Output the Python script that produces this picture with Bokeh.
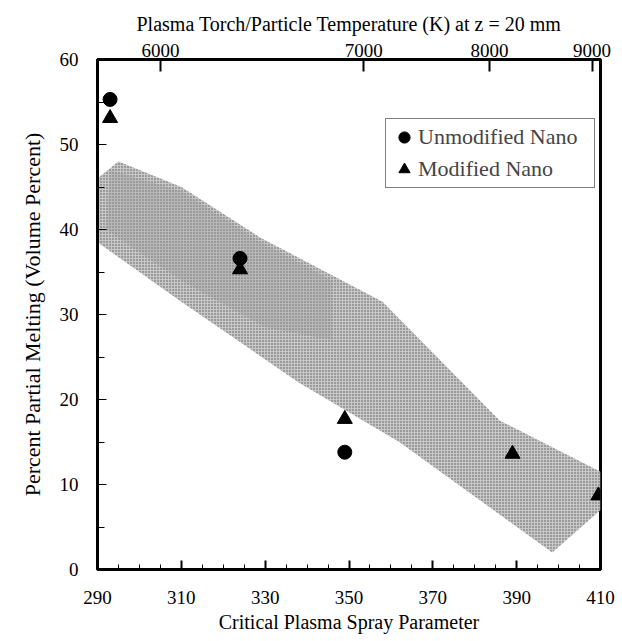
from bokeh.plotting import figure
from bokeh.models import LinearAxis, FixedTicker, Range1d, Legend, LegendItem
from bokeh.embed import file_html
from bokeh.resources import INLINE

# ---- data ----
unmod_x = [293, 324, 349]
unmod_y = [55.3, 36.6, 13.8]
mod_x = [293, 324, 349, 389, 409.5]
mod_y = [53.1, 35.3, 17.7, 13.6, 8.7]

band_x = [290, 295, 310, 329, 358, 386, 410, 410, 398.5, 362, 338, 310, 290]
band_y = [46, 48, 45, 39, 31.5, 17.5, 11.5, 7, 2, 15, 22, 31.5, 38.5]

core_x = [293, 310, 329, 346, 346, 330, 310, 292]
core_y = [47, 44.5, 38.5, 34, 27, 28.5, 34, 40]

x_ticks = [290, 310, 330, 350, 370, 390, 410]
x_minor = list(range(290, 411, 5))
y_ticks = [0, 10, 20, 30, 40, 50, 60]
y_minor = list(range(0, 61, 5))

temp_labels = ["6000", "7000", "8000", "9000"]
temp_pos = [305, 353.5, 383.5, 408]

FONT = "Liberation Serif"

p = figure(width=622, height=640, output_backend="svg", toolbar_location=None,
           x_range=Range1d(290, 410), y_range=Range1d(0, 60),
           min_border_left=97, min_border_right=22, min_border_top=59,
           min_border_bottom=71, x_axis_location=None, y_axis_location=None)
p.grid.visible = False
p.outline_line_color = "black"
p.outline_line_width = 3
p.background_fill_color = "white"
p.border_fill_color = "white"

# band
p.patch(band_x, band_y, fill_color="#c8c8c8", fill_alpha=1.0, line_color=None,
        hatch_pattern=".", hatch_color="#555555", hatch_scale=3, hatch_weight=1)
p.patch(core_x, core_y, fill_color="#9a9a9a", fill_alpha=0.35, line_color=None)

r1 = p.scatter(unmod_x, unmod_y, marker="circle", size=14, color="black")
r2 = p.scatter(mod_x, mod_y, marker="triangle", size=15, color="black")

def style(ax, lab_size="19px", title_size="20px"):
    ax.axis_line_width = 3
    ax.axis_line_color = "black"
    ax.major_label_text_font = FONT
    ax.major_label_text_font_size = lab_size
    ax.major_label_text_color = "black"
    ax.axis_label_text_font = FONT
    ax.axis_label_text_font_size = title_size
    ax.axis_label_text_font_style = "normal"
    ax.axis_label_text_color = "black"
    ax.major_tick_out = 0
    ax.minor_tick_out = 0
    ax.major_tick_line_color = "black"
    ax.minor_tick_line_color = "black"

xb = LinearAxis(ticker=FixedTicker(ticks=x_ticks, minor_ticks=x_minor),
                axis_label="Critical Plasma Spray Parameter")
style(xb)
xb.major_tick_in = 9
xb.minor_tick_in = 5
xb.major_tick_line_width = 2
xb.major_label_standoff = 21
xb.axis_label_standoff = 4
p.add_layout(xb, "below")

yl = LinearAxis(ticker=FixedTicker(ticks=y_ticks, minor_ticks=y_minor),
                axis_label="Percent Partial Melting (Volume Percent)")
style(yl, title_size="22px")
yl.major_tick_in = 9
yl.minor_tick_in = 7
yl.major_label_standoff = 19
yl.axis_label_standoff = 12
p.add_layout(yl, "left")

xt = LinearAxis(ticker=FixedTicker(ticks=temp_pos),
                axis_label="Plasma Torch/Particle Temperature (K) at z = 20 mm")
style(xt)
xt.major_label_overrides = {t: l for t, l in zip(temp_pos, temp_labels)}
xt.major_tick_in = 12
xt.major_tick_line_width = 2
xt.minor_tick_in = 0
xt.axis_line_width = 2
xt.major_label_standoff = 3
xt.axis_label_standoff = 6
p.add_layout(xt, "above")

legend = Legend(items=[LegendItem(label="Unmodified Nano", renderers=[r1]),
                       LegendItem(label="Modified Nano", renderers=[r2])],
                location=(288, 381))
legend.label_text_font = FONT
legend.label_text_font_size = "22px"
legend.border_line_color = "black"
legend.border_line_width = 1
legend.padding = 4
legend.spacing = 4
legend.glyph_width = 28
legend.glyph_height = 28
legend.label_standoff = 0
legend.label_width = 172
legend.margin = 0
legend.background_fill_alpha = 1
p.add_layout(legend, "center")

open("out.html", "w").write(file_html(p, INLINE))
